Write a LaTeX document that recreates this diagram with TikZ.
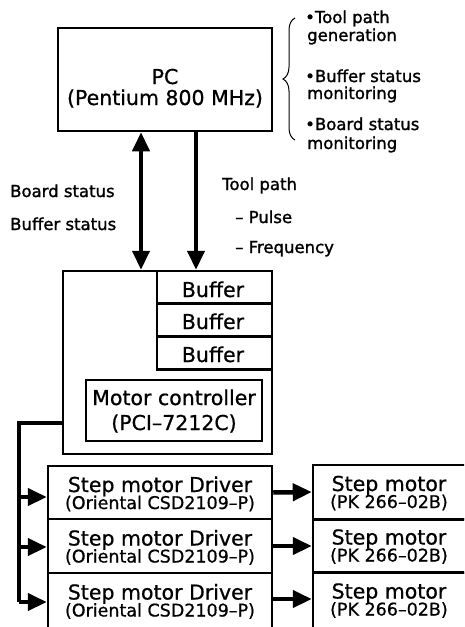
\documentclass[tikz,border=0pt]{standalone}
\usepackage{fontspec}
\setmainfont{DejaVu Sans}
\newfontfamily\boxfont[FakeBold=0.7]{DejaVu Sans}
\newfontfamily\labfont[FakeBold=1.4]{DejaVu Sans}
\usetikzlibrary{arrows.meta,decorations.pathreplacing}
\begin{document}
\begin{tikzpicture}[x=1pt,y=-1pt,
 box/.style={draw, line width=2.5pt, inner sep=0pt},
 bigt/.style={font=\boxfont\fontsize{20.5}{20}\selectfont, anchor=base, inner sep=0pt},
 smallt/.style={font=\boxfont\fontsize{17.5}{17}\selectfont, anchor=base, inner sep=0pt},
 lab/.style={font=\labfont\fontsize{16.5}{16}\selectfont, anchor=base west, inner sep=0pt},
 fat/.style={line width=4.5pt, -{Triangle[length=19pt,width=17pt]}},
 fatboth/.style={line width=4.5pt, {Triangle[length=19pt,width=17pt]}-{Triangle[length=19pt,width=17pt]}},
 bus/.style={line width=4pt},
 thinbrace/.style={decorate, decoration={brace, amplitude=12pt}, line width=1pt},
]
\useasboundingbox (0,0) rectangle (464,627);
\clip (0,0) rectangle (464,627);

% PC
\node[box, minimum width=214, minimum height=103] (pc) at (165,79.5) {};
\node[bigt] (pct1) at (165,84) {PC};
\node[bigt] (pct2) at (165,105) {(Pentium 800 MHz)};

% brace and functions
\coordinate (brb) at (295,140);
\coordinate (brt) at (295,18);
\draw[thinbrace] (brb) -- (brt);
\node[lab] (f1) at (305,23) {•Tool path};
\node[lab] (f2) at (307,41) {generation};
\node[lab] (f3) at (305,82) {•Buffer status};
\node[lab] (f4) at (307,99) {monitoring};
\node[lab] (f5) at (305,130) {•Board status};
\node[lab] (f6) at (307,149) {monitoring};

% main board
\node[box, minimum width=209, minimum height=183] (main) at (167.5,362.5) {};
\node[box, minimum width=115, minimum height=32.5] (b1) at (214.5,287.25) {};
\node[box, minimum width=115, minimum height=33] (b2) at (214.5,320) {};
\node[box, minimum width=115, minimum height=33] (b3) at (214.5,353) {};
\node[bigt] (b1t) at (213,297) {Buffer};
\node[bigt] (b2t) at (213,329) {Buffer};
\node[bigt] (b3t) at (213,362) {Buffer};
\node[box, minimum width=176, minimum height=61] (mc) at (174,410.5) {};
\node[bigt] (mct1) at (174,405) {Motor controller};
\node[bigt] (mct2) at (174,430) {(PCI–7212C)};

% PC <-> board arrows
\coordinate (ax1) at (141,200);
\coordinate (ax2) at (196,200);
\draw[fatboth] (ax1 |- pc.south) -- (ax1 |- main.north);
\draw[fat] (ax2 |- pc.south) -- (ax2 |- main.north);
\node[lab] (l1) at (10,197) {Board status};
\node[lab] (l2) at (10,230) {Buffer status};
\node[lab] (l3) at (222,190) {Tool path};
\node[lab] (l4) at (235,223) {– Pulse};
\node[lab] (l5) at (235,253) {– Frequency};

% drivers
\node[box, minimum width=224, minimum height=53] (d1) at (160,492.5) {};
\node[box, minimum width=224, minimum height=54] (d2) at (160,546) {};
\node[box, minimum width=224, minimum height=57] (d3) at (160,601.5) {};
\foreach \n/\y in {d1/0,d2/53.5,d3/107.5}{
  \node[bigt] (\n t1) at (160,492+\y) {Step motor Driver};
  \node[smallt] (\n t2) at (160,509+\y) {(Oriental CSD2109–P)};
}

% motors
\node[box, minimum width=170, minimum height=54] (m1) at (398,492) {};
\node[box, minimum width=170, minimum height=53] (m2) at (398,546) {};
\node[box, minimum width=170, minimum height=57] (m3) at (398,601.5) {};
\foreach \n/\y in {m1/0,m2/53.5,m3/107.5}{
  \node[bigt] (\n t1) at (389,491+\y) {Step motor};
  \node[smallt] (\n t2) at (389,508+\y) {(PK 266–02B)};
}

% bus from controller board to drivers
\coordinate (bt) at (19,423);
\coordinate (bb) at (19,602);
\coordinate (bm1) at (19,497);
\coordinate (bm2) at (19,547);
\draw[bus] (main.west |- bt) -- (bt) -- (bb);
\draw[fat] (bb) -- (d3.west |- bb);
\draw[fat] (bm1) -- (d1.west |- bm1);
\draw[fat] (bm2) -- (d2.west |- bm2);

% drivers to motors
\draw[fat] (d1.east) -- (m1.west);
\draw[fat] (d2.east) -- (m2.west);
\draw[fat] (d3.east |- 0,599) -- (m3.west |- 0,599);
\end{tikzpicture}
\end{document}
